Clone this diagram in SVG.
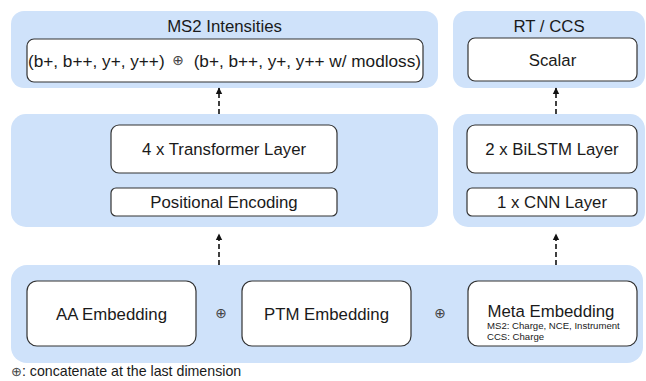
<svg xmlns="http://www.w3.org/2000/svg" width="646" height="381" viewBox="0 0 646 381">
<defs>
<style>
.panel{fill:#cfe2fa;stroke:none}
.box{fill:#ffffff;stroke:#333333;stroke-width:1.2}
.t{font-family:"Liberation Sans",Arial,sans-serif;font-size:16.8px;fill:#1a1a1a;text-anchor:middle}
.s{font-family:"Liberation Sans",Arial,sans-serif;font-size:9.6px;fill:#1a1a1a}
.op{font-family:"DejaVu Sans",sans-serif;font-size:14px;fill:#444444;text-anchor:middle}
.cap{font-family:"Liberation Sans",Arial,sans-serif;font-size:14.2px;fill:#1a1a1a}
.conn{fill:none;stroke:#111111;stroke-width:1.6;stroke-dasharray:5 3}
</style>
<marker id="ah" markerWidth="8" markerHeight="8" refX="6" refY="4" orient="auto" markerUnits="userSpaceOnUse">
<path d="M0,0.8 L6.5,4 L0,7.2 Z" fill="#111111"/>
</marker>
</defs>
<rect width="646" height="381" fill="#ffffff"/>

<g id="panel-ms2">
<rect class="panel" x="11" y="11" width="427" height="77" rx="13"/>
<text class="t" x="224.5" y="32">MS2 Intensities</text>
</g>
<g id="node-ms2-out">
<rect class="box" x="27" y="39" width="396" height="43" rx="7"/>
<text class="t" x="28" y="66.5" style="text-anchor:start;font-size:17.2px">(b+, b++, y+, y++)</text>
<text class="op" x="178" y="65">⊕</text>
<text class="t" x="421" y="66.5" style="text-anchor:end;font-size:17.2px">(b+, b++, y+, y++ w/ modloss)</text>
</g>

<g id="panel-rt">
<rect class="panel" x="453" y="11" width="192" height="77" rx="13"/>
<text class="t" x="549" y="32">RT / CCS</text>
</g>
<g id="node-scalar">
<rect class="box" x="468" y="38" width="169" height="43" rx="7"/>
<text class="t" x="552.5" y="65.5">Scalar</text>
</g>

<g id="panel-transformer">
<rect class="panel" x="11" y="114" width="427" height="113" rx="15"/>
</g>
<g id="node-transformer">
<rect class="box" x="111" y="125" width="226" height="48" rx="8"/>
<text class="t" x="224" y="155">4 x Transformer Layer</text>
</g>
<g id="node-posenc">
<rect class="box" x="111" y="188" width="226" height="28" rx="5"/>
<text class="t" x="224" y="208">Positional Encoding</text>
</g>

<g id="panel-lstm">
<rect class="panel" x="453" y="114" width="192" height="113" rx="15"/>
</g>
<g id="node-bilstm">
<rect class="box" x="467" y="125" width="170" height="48" rx="8"/>
<text class="t" x="552" y="155">2 x BiLSTM Layer</text>
</g>
<g id="node-cnn">
<rect class="box" x="467" y="188" width="170" height="28" rx="5"/>
<text class="t" x="552" y="208">1 x CNN Layer</text>
</g>

<g id="panel-embed">
<rect class="panel" x="11" y="265" width="632" height="98" rx="16"/>
</g>
<g id="node-aa">
<rect class="box" x="27" y="281" width="169" height="65" rx="10"/>
<text class="t" x="111.5" y="319.5">AA Embedding</text>
</g>
<text class="op" x="221" y="318">⊕</text>
<g id="node-ptm">
<rect class="box" x="242" y="281" width="169" height="65" rx="10"/>
<text class="t" x="326.5" y="319.5">PTM Embedding</text>
</g>
<text class="op" x="440" y="318">⊕</text>
<g id="node-meta">
<rect class="box" x="468" y="281" width="169" height="65" rx="10"/>
<text class="t" x="551" y="317">Meta Embedding</text>
<text class="s" x="487" y="328.5">MS2: Charge, NCE, Instrument</text>
<text class="s" x="487" y="339.5">CCS: Charge</text>
</g>

<g id="connectors">
<line class="conn" x1="219" y1="265" x2="219" y2="234" marker-end="url(#ah)"/>
<line class="conn" x1="556" y1="265" x2="556" y2="234" marker-end="url(#ah)"/>
<line class="conn" x1="219" y1="114" x2="219" y2="88" marker-end="url(#ah)"/>
<line class="conn" x1="556" y1="114" x2="556" y2="88" marker-end="url(#ah)"/>
</g>

<text class="cap" x="11" y="376"><tspan font-family="DejaVu Sans, sans-serif" font-size="13px" fill="#444444">⊕</tspan>: concatenate at the last dimension</text>
</svg>
